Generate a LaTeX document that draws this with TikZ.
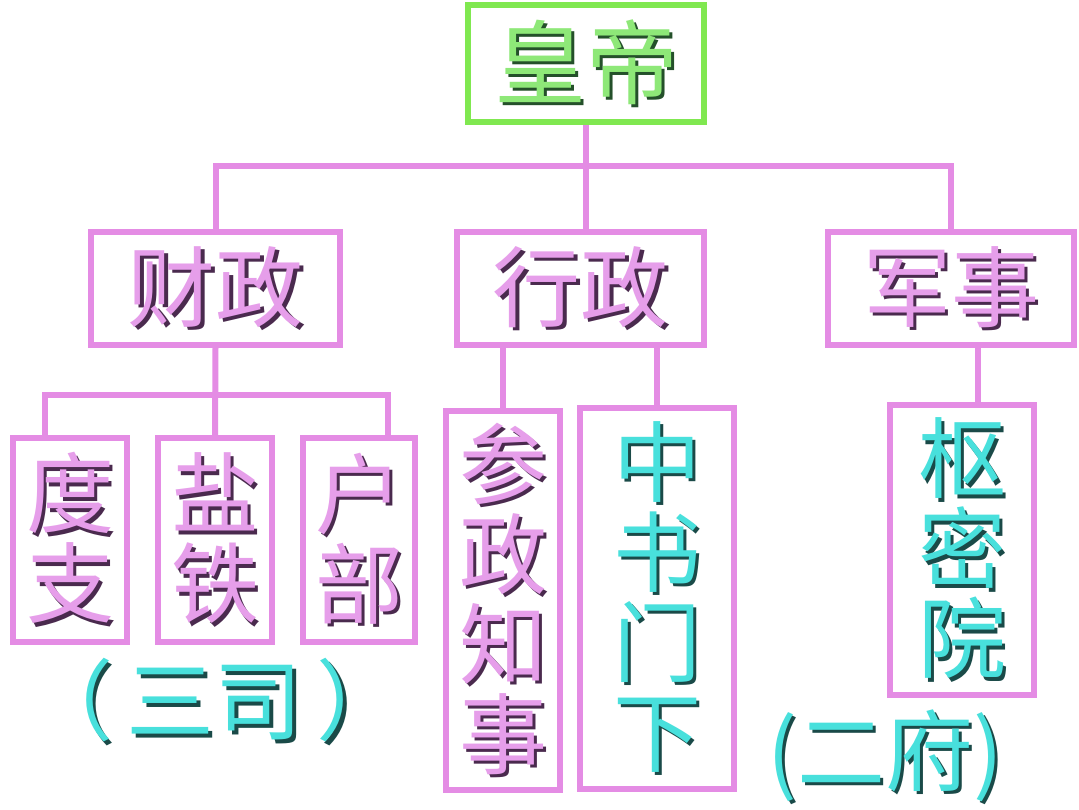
\documentclass[tikz,border=0pt]{standalone}
\usepackage{fontspec}
\newfontfamily\cjk{Noto Sans CJK SC}
\definecolor{linepink}{HTML}{E48CE4}
\definecolor{boxgreen}{HTML}{80E850}
\definecolor{pinktext}{HTML}{E69EEA}
\definecolor{pinkshade}{HTML}{4A2A4E}
\definecolor{greentext}{HTML}{8EE878}
\definecolor{greenshade}{HTML}{24502A}
\definecolor{cyantext}{HTML}{48E0DC}
\definecolor{cyanshade}{HTML}{1A4A48}
\usetikzlibrary{positioning,calc}
\newcommand{\wordart}[3]{\makebox[0pt][l]{\kern3.5pt\raisebox{-3.5pt}{\textcolor{#2}{#3}}}\textcolor{#1}{#3}}
\newcommand{\pk}[1]{\wordart{pinktext}{pinkshade}{#1}}
\newcommand{\gr}[1]{\wordart{greentext}{greenshade}{#1}}
\newcommand{\cy}[1]{\wordart{cyantext}{cyanshade}{#1}}

\begin{document}
\begin{tikzpicture}[x=1pt, y=-1pt,
  office/.style={rectangle, draw=linepink, line width=6pt, inner sep=0pt, align=center, font=\cjk\fontsize{88}{90}\selectfont},
  head/.style={office, draw=boxgreen, font=\cjk\fontsize{92}{92}\selectfont},
  link/.style={draw=linepink, line width=6pt},
  note/.style={inner sep=0pt, font=\cjk\fontsize{88}{90}\selectfont}]
\fill[white] (0,0) rectangle (1079,809);
\coordinate (hub) at (0,166);
\coordinate (cbus) at (0,395);
\node[head, minimum width=236pt, minimum height=117pt] (huangdi) at (586,63.5) {\gr{皇帝}};
\node[office, minimum width=249pt, minimum height=113pt] (caizheng) at (215.5,288.5) {\pk{财政}};
\node[office, minimum width=247pt, minimum height=113pt] (xingzheng) at (580.5,288.5) {\pk{行政}};
\node[office, minimum width=246pt, minimum height=113pt] (junshi) at (951,288.5) {\pk{军事}};
\node[office, minimum width=114pt, minimum height=204pt] (duzhi) at (70,540) {\pk{度}\\\pk{支}};
\node[office, minimum width=114pt, minimum height=204pt] (yantie) at (215,540) {\pk{盐}\\\pk{铁}};
\node[office, minimum width=112pt, minimum height=204pt] (hubu) at (359,540) {\pk{户}\\\pk{部}};
\node[office, minimum width=114pt, minimum height=379pt] (canzheng) at (503,600.5) {\pk{参}\\\pk{政}\\\pk{知}\\\pk{事}};
\node[office, minimum width=154pt, minimum height=381pt] (zhongshu) at (657,598.5) {\cy{中}\\\cy{书}\\\cy{门}\\\cy{下}};
\node[office, minimum width=144pt, minimum height=290pt] (shumi) at (962,550) {\cy{枢}\\\cy{密}\\\cy{院}};
\node[note] (sansi) at (215,702) {\cy{（\kern14pt 三司\kern14pt ）}};
\node[note] (erfu) at (885,757) {\cy{(二府)}};
\draw[link] (huangdi.south) -- (huangdi.south |- xingzheng.north);
\draw[link] (caizheng.north) |- (junshi.north |- hub) -- (junshi.north);
\draw[link] (caizheng.south) -- (yantie.north);
\draw[link] ([xshift=-25pt]duzhi.north) |- ([xshift=29pt]hubu.north |- cbus) -- ([xshift=29pt]hubu.north);
\draw[link] (canzheng.north) -- (canzheng.north |- xingzheng.south);
\draw[link] (zhongshu.north) -- (zhongshu.north |- xingzheng.south);
\draw[link] ([xshift=16pt]shumi.north) -- ([xshift=16pt]shumi.north |- junshi.south);
\end{tikzpicture}
\end{document}
